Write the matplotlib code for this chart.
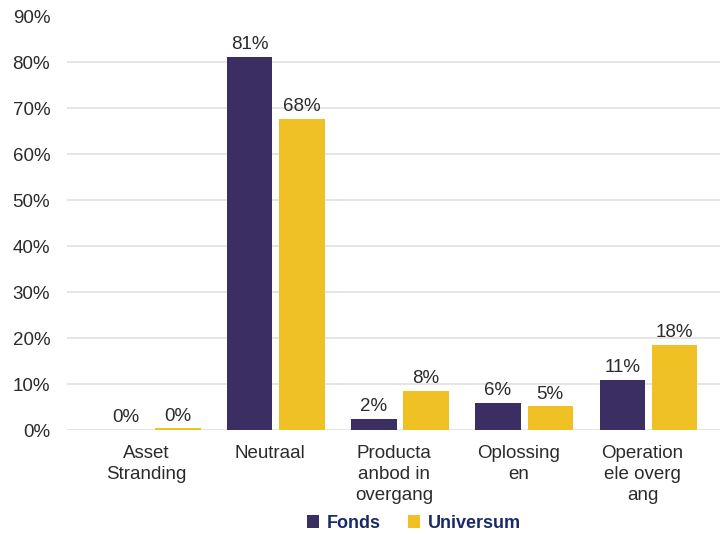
import numpy as np
import matplotlib.pyplot as plt

plt.rcParams['font.family'] = ['Liberation Sans', 'DejaVu Sans']

categories = ['Asset\nStranding', 'Neutraal', 'Producta\nanbod in\novergang', 'Oplossing\nen', 'Operation\nele overg\nang']
fonds = [0.0, 81.1, 2.4, 5.9, 10.9]
universum = [0.4, 67.6, 8.5, 5.2, 18.5]
fonds_labels = ['0%', '81%', '2%', '6%', '11%']
universum_labels = ['0%', '68%', '8%', '5%', '18%']

c_fonds = '#3a2e62'
c_univ = '#f0c124'

fig = plt.figure(figsize=(7.26, 5.35), dpi=100)
ax = fig.add_axes([0.092, 0.196, 0.9, 0.774])

x = np.arange(len(categories))
w = 0.365
off = 0.21
b1 = ax.bar(x - off, fonds, w, color=c_fonds, label='Fonds', zorder=3)
b2 = ax.bar(x + off, universum, w, color=c_univ, label='Universum', zorder=3)

for bars, labs in ((b1, fonds_labels), (b2, universum_labels)):
    for b, t in zip(bars, labs):
        ax.text(b.get_x() + b.get_width() / 2, b.get_height() + 0.8, t,
                ha='center', va='bottom', fontsize=13.5, color='#2b2b2b')

ax.set_xlim(-0.685, 4.58)
ax.set_ylim(0, 90)
ax.set_yticks(np.arange(0, 91, 10))
ax.set_yticklabels([f'{v}%' for v in range(0, 91, 10)], fontsize=13.5, color='#2b2b2b')
# labels sit a little left of the bar pair centre in the original
ax.set_xticks(x - 0.045)
ax.set_xticklabels(categories, fontsize=13.5, color='#2b2b2b', linespacing=1.3)
ax.tick_params(length=0, axis='y', pad=12)
ax.tick_params(length=0, axis='x', pad=11)
for v in range(0, 90, 10):
    ax.axhline(v, color='#e0e0e0', lw=1.2, zorder=1)
for s in ax.spines.values():
    s.set_visible(False)

leg = fig.legend(handles=[b1, b2], loc='lower center', bbox_to_anchor=(0.57, -0.025),
                 ncol=2, frameon=False, fontsize=13, handlelength=0.7, handleheight=0.7,
                 columnspacing=1.5, handletextpad=0.4)
for t in leg.get_texts():
    t.set_color('#1b2a66')
    t.set_fontweight('bold')

fig.savefig('out.png', dpi=100)
